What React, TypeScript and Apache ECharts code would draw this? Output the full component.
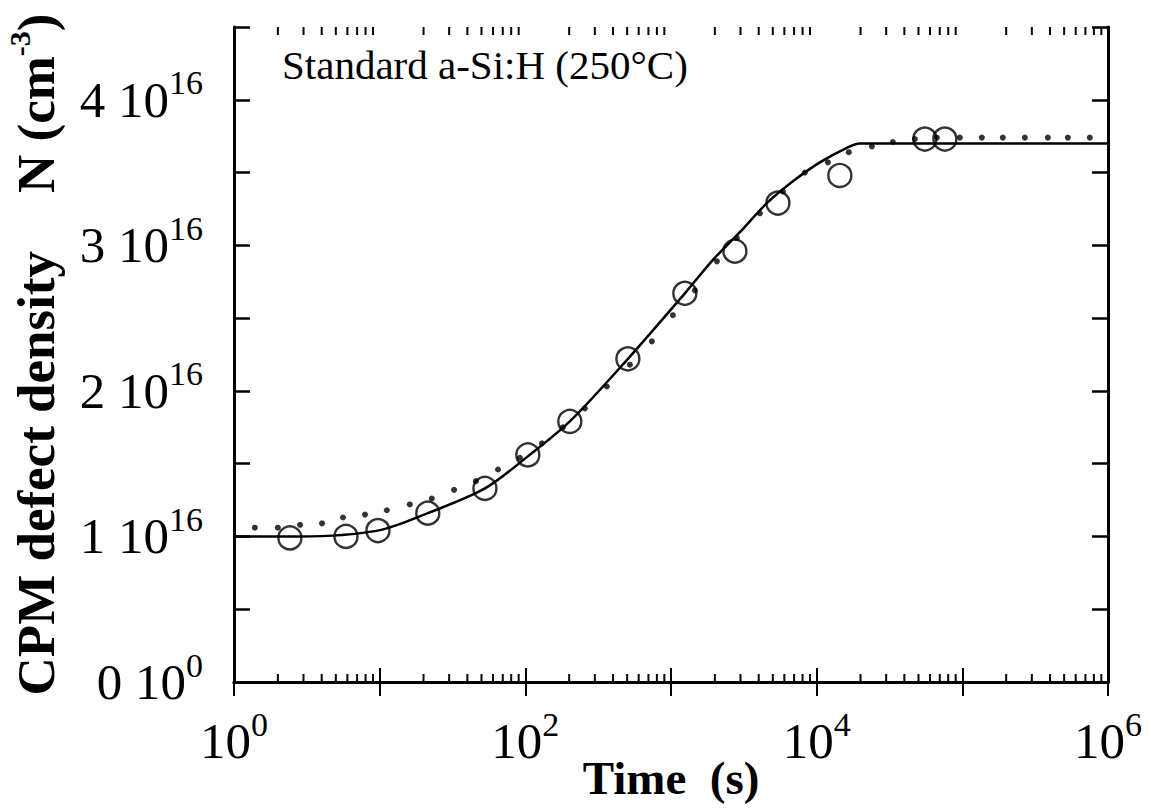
import React, { useEffect, useRef } from "react";
import * as echarts from "echarts";

// Open circles: measured CPM defect density (time in s, density in 1e16 cm^-3)
const circleTime = [2.42, 5.87, 9.73, 21.4, 52.8, 104, 202, 506, 1245, 2746, 5420, 14430, 55300, 75900];
const circleDensity = [0.99, 1.0, 1.04, 1.16, 1.33, 1.56, 1.79, 2.22, 2.67, 2.96, 3.29, 3.48, 3.73, 3.73];

// Small filled dots: second data set
const dotTime = [
  1.39, 2.0, 2.84, 4.02, 5.6, 7.93, 11.2, 16.1, 22.8, 32.4, 45.8, 64.9, 91.8, 130, 181, 256, 363, 522,
  739, 1030, 1459, 2066, 2833, 4074, 5861, 8298, 11940, 16630, 23930, 33340, 47210, 66840, 96100,
  136100, 189700, 268700, 386400, 530000, 750000,
];
const dotDensity = [
  1.06, 1.06, 1.08, 1.09, 1.13, 1.15, 1.18, 1.22, 1.26, 1.32, 1.38, 1.46, 1.54, 1.64, 1.75, 1.88, 2.03,
  2.18, 2.34, 2.52, 2.69, 2.89, 3.05, 3.22, 3.37, 3.5, 3.57, 3.64, 3.68, 3.71, 3.73, 3.74, 3.74, 3.74,
  3.74, 3.74, 3.74, 3.74, 3.74,
];

// Solid fit curve
const fitTime = [1, 2.84, 9.7, 21.4, 52.8, 104, 202, 506, 1245, 1940, 2970, 4550, 6870, 10520, 16110, 19780, 1000000];
const fitDensity = [1.0, 1.0, 1.04, 1.16, 1.33, 1.55, 1.79, 2.22, 2.67, 2.9, 3.09, 3.29, 3.44, 3.57, 3.67, 3.7, 3.7];

// Tick labels
const xLabelExponents = [0, 2, 4, 6];
const yLabelMantissa = [0, 1, 2, 3, 4];
const yLabelExponent = [0, 16, 16, 16, 16];
const decades = [1, 10, 100, 1000, 10000, 100000];
const minorMultipliers = [2, 3, 4, 5, 6, 7, 8, 9];

const UNIT = 1e16;
const Y_MAX = 4.5e16;
const SERIF = "'Liberation Serif', 'Times New Roman', Times, serif";

export default function App() {
  const ref = useRef<HTMLDivElement>(null);

  useEffect(() => {
    if (!ref.current) return;
    const chart = echarts.init(ref.current, undefined, { renderer: "svg" });

    const minorTicks: number[] = [];
    decades.forEach((d) => minorMultipliers.forEach((m) => minorTicks.push(d * m)));

    const richLabel = {
      a: { fontSize: 51, fontFamily: SERIF, color: "#000", lineHeight: 68 },
      s: { fontSize: 34, fontFamily: SERIF, color: "#000", lineHeight: 34, verticalAlign: "top" },
    };

    const axisLineStyle = { lineStyle: { color: "#000", width: 3 } };

    const option: any = {
      animation: false,
      backgroundColor: "#fff",
      grid: { left: 234, right: 43, top: 27, bottom: 127, containLabel: false, outerBoundsMode: "none" },
      xAxis: [
        {
          type: "log",
          logBase: 10,
          min: 1,
          max: 1e6,
          interval: 1,
          position: "bottom",
          axisLine: { show: true, ...axisLineStyle },
          axisTick: { show: true, inside: true, length: 14, lineStyle: { color: "#000", width: 2 } },
          splitLine: { show: false },
          axisLabel: {
            margin: 25,
            formatter: (v: number) => {
              const e = Math.round(Math.log10(v));
              if (!xLabelExponents.includes(e)) return "";
              return `{a|10}{s|${e}}`;
            },
            rich: richLabel,
          },
          name: "Time  (s)",
          nameLocation: "middle",
          nameMoveOverlap: false,
          nameGap: 72,
          nameTextStyle: { fontSize: 47, fontWeight: "bold", fontFamily: SERIF, color: "#000", lineHeight: 47 },
        },
        {
          type: "log",
          logBase: 10,
          min: 1,
          max: 1e6,
          interval: 1,
          position: "top",
          axisLine: { show: true, ...axisLineStyle },
          axisTick: { show: true, inside: true, length: 14, lineStyle: { color: "#000", width: 2 } },
          splitLine: { show: false },
          axisLabel: { show: false },
        },
      ],
      yAxis: [
        {
          type: "value",
          min: 0,
          max: Y_MAX,
          interval: 0.5e16,
          position: "left",
          axisLine: { show: true, ...axisLineStyle },
          axisTick: { show: true, inside: true, length: 16, lineStyle: { color: "#000", width: 2.5 } },
          splitLine: { show: false },
          axisLabel: {
            margin: 31,
            formatter: (v: number) => {
              const n = v / UNIT;
              const idx = yLabelMantissa.findIndex((m) => Math.abs(m - n) < 1e-6);
              if (idx < 0) return "";
              return `{a|${yLabelMantissa[idx]} 10}{s|${yLabelExponent[idx]}}`;
            },
            rich: richLabel,
          },
          name: "{t|CPM defect density}{g|}{t|N (cm}{s|-3}{t|)}",
          nameLocation: "middle",
          nameRotate: 90,
          nameGap: 166,
          nameTextStyle: {
            rich: {
              t: { fontSize: 53, fontWeight: "bold", fontFamily: SERIF, color: "#000", lineHeight: 64 },
              s: { fontSize: 30, fontWeight: "bold", fontFamily: SERIF, color: "#000", lineHeight: 30, verticalAlign: "top" },
              g: { width: 58 },
            },
          },
        },
        {
          type: "value",
          min: 0,
          max: Y_MAX,
          interval: 0.5e16,
          position: "right",
          axisLine: { show: true, ...axisLineStyle },
          axisTick: { show: true, inside: true, length: 16, lineStyle: { color: "#000", width: 2.5 } },
          splitLine: { show: false },
          axisLabel: { show: false },
        },
      ],
      graphic: [
        {
          type: "text",
          left: 282,
          top: 44,
          style: {
            text: "Standard a-Si:H (250°C)",
            font: `41px ${SERIF}`,
            fill: "#000",
          },
        },
      ],
      series: [
        {
          type: "custom",
          name: "minor ticks",
          silent: true,
          clip: false,
          data: minorTicks.map((t) => [t, 0]),
          renderItem: (params: any, api: any) => {
            const x = api.value(0);
            const b = api.coord([x, 0]);
            const t = api.coord([x, Y_MAX]);
            const style = { stroke: "#000", lineWidth: 2 };
            return {
              type: "group",
              children: [
                { type: "line", shape: { x1: b[0], y1: b[1], x2: b[0], y2: b[1] - 8 }, style },
                { type: "line", shape: { x1: t[0], y1: t[1], x2: t[0], y2: t[1] + 8 }, style },
              ],
            };
          },
        },
        {
          type: "line",
          name: "fit",
          data: fitTime.map((t, i) => [t, fitDensity[i] * UNIT]),
          showSymbol: false,
          smooth: 0.3,
          lineStyle: { color: "#000", width: 2.5 },
        },
        {
          type: "scatter",
          name: "measured",
          data: circleTime.map((t, i) => [t, circleDensity[i] * UNIT]),
          symbol: "circle",
          symbolSize: 23,
          itemStyle: { color: "rgba(0,0,0,0)", borderColor: "#000", borderWidth: 2.4 },
        },
        {
          type: "scatter",
          name: "simulated",
          data: dotTime.map((t, i) => [t, dotDensity[i] * UNIT]),
          symbol: "circle",
          symbolSize: 6,
          itemStyle: { color: "#000" },
        },
      ],
    };

    chart.setOption(option);
    return () => chart.dispose();
  }, []);

  return (
    <div
      ref={ref}
      style={{ position: "absolute", left: 0, top: 0, width: 1151, height: 809, background: "#fff" }}
    />
  );
}
